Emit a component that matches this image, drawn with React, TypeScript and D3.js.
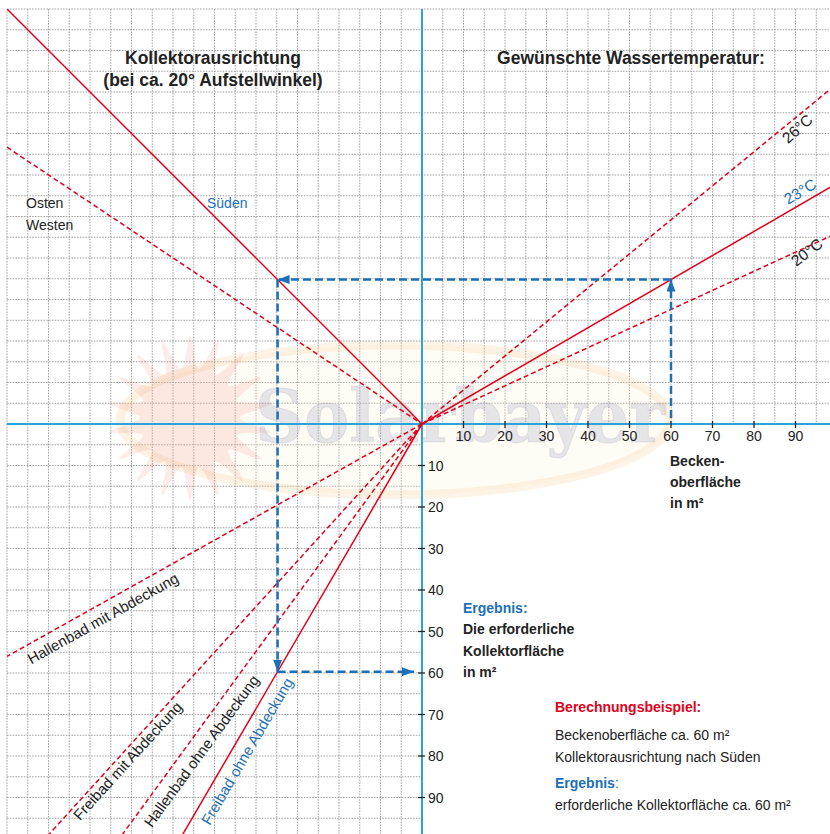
import * as d3 from 'd3'

// axis ticks (m²)
const xTicks = [10, 20, 30, 40, 50, 60, 70, 80, 90]
const yTicks = [10, 20, 30, 40, 50, 60, 70, 80, 90]

// Kollektorausrichtung: y value at x = -100
const orientationNames = ['Süden', 'Osten / Westen']
const orientationValues = [100, 66.7]
const orientationDashed = [false, true]

// Wassertemperatur: y value at x = 100
const temperatureNames = ['26°C', '23°C', '20°C']
const temperatureValues = [82, 58, 46]
const temperatureDashed = [true, false, true]

// Beckenart: -y value at x = -100
const poolNames = ['Hallenbad mit Abdeckung', 'Freibad mit Abdeckung', 'Hallenbad ohne Abdeckung', 'Freibad ohne Abdeckung']
const poolValues = [56, 110, 137, 171.5]
const poolDashed = [true, true, true, false]

// Berechnungsbeispiel
const exampleArea = 60
const exampleTemp = 1      // 23°C
const exampleOrient = 0    // Süden
const examplePool = 3      // Freibad ohne Abdeckung

const W = 830
const H = 834
const RED = '#e3001b'
const BLUE = '#1d6fb6'
const AXIS = '#2aa2dc'
const TEXT = '#222'
const FONT = '"Liberation Sans", Arial, sans-serif'

export default function App() {
  const x = d3.scaleLinear().domain([-100, 100]).range([7, 837])
  const y = d3.scaleLinear().domain([-100, 100]).range([839, 9])
  const x0 = x(0)
  const y0 = y(0)
  const grid = d3.range(-100, 101, 5)

  const line = d3.line<[number, number]>().x(d => x(d[0])).y(d => y(d[1]))

  // example path values
  const a = exampleArea
  const b = a * temperatureValues[exampleTemp] / 100
  const c = -b * 100 / orientationValues[exampleOrient]
  const d = c * poolValues[examplePool] / 100

  // sun decoration
  const sunPts: [number, number][] = d3.range(36).map(i => [i * Math.PI / 18, i % 2 ? 50 : 82])
  const sun = d3.lineRadial().curve(d3.curveCardinalClosed)(sunPts)

  const tempLabel = [
    { at: 89, off: 15, rot: -42, color: TEXT },
    { at: 92.5, off: -6, rot: -31, color: BLUE },
    { at: 92.5, off: 10, rot: -37, color: TEXT },
  ]
  const poolLabel = [
    { at: -78.5, off: 19, color: TEXT },
    { at: -72.5, off: 14, color: TEXT },
    { at: -56, off: 20, color: TEXT },
    { at: -45, off: 19, color: BLUE },
  ]

  return (
    <svg width={W} height={H} style={{ position: 'absolute', left: 0, top: 0, background: '#fff' }} fontFamily={FONT}>
      <defs>
        <clipPath id="plot">
          <rect x={x(-100)} y={y(100)} width={W - x(-100)} height={H - y(100)} />
        </clipPath>
        <marker id="arrow" viewBox="0 0 12 9" refX={12} refY={4.5} markerWidth={12} markerHeight={9}
          orient="auto" markerUnits="userSpaceOnUse">
          <path d="M0,0 L12,4.5 L0,9 Z" fill={BLUE} />
        </marker>
      </defs>

      {/* grid */}
      <g stroke="#999" strokeWidth={0.9} strokeDasharray="1.6,1.2">
        {grid.map(g => (
          <line key={'vu' + g} x1={x(g)} x2={x(g)} y1={y(100)} y2={y0} />
        ))}
        {grid.filter(g => g >= 0).map(g => (
          <line key={'hu' + g} x1={x(-100)} x2={W} y1={y(g)} y2={y(g)} />
        ))}
        {grid.filter(g => g <= 0).map(g => (
          <line key={'vl' + g} x1={x(g)} x2={x(g)} y1={y0} y2={H} />
        ))}
        {grid.filter(g => g < 0).map(g => (
          <line key={'hl' + g} x1={x(-100)} x2={x0} y1={y(g)} y2={y(g)} />
        ))}
      </g>

      {/* watermark */}
      <g pointerEvents="none">
        <ellipse cx={395} cy={420} rx={275} ry={75} fill="#fdebd0" fillOpacity={0.22} stroke="#f6c27c" strokeOpacity={0.18} strokeWidth={9} />
        <path d={sun ?? ''} transform="translate(190,418)" fill="#e8553e" fillOpacity={0.11} />
        <text x={460} y={442} textAnchor="middle" fontFamily='"DejaVu Serif", serif' fontWeight="bold" fontSize={72}
          textLength={410} lengthAdjust="spacingAndGlyphs" fill="#8a90b2" fillOpacity={0.22} stroke="#8a90b2" strokeOpacity={0.18}>
          Solarbayer
        </text>
      </g>

      {/* axes */}
      <line x1={x(-100)} x2={W} y1={y0} y2={y0} stroke={AXIS} strokeWidth={2} />
      <line x1={x0} x2={x0} y1={y(100)} y2={H} stroke={AXIS} strokeWidth={2} />

      {/* ticks */}
      <g stroke={TEXT} strokeWidth={1.3}>
        {xTicks.map(t => <line key={'xt' + t} x1={x(t)} x2={x(t)} y1={y0 - 3} y2={y0 + 4} />)}
        {yTicks.map(t => <line key={'yt' + t} x1={x0 - 4} x2={x0 + 3} y1={y(-t)} y2={y(-t)} />)}
      </g>
      <g fontSize={14} fill={TEXT}>
        {xTicks.map(t => <text key={'xl' + t} x={x(t)} y={y0 + 17} textAnchor="middle">{t}</text>)}
        {yTicks.map(t => <text key={'yl' + t} x={x0 + 6} y={y(-t) + 5}>{t}</text>)}
      </g>

      {/* curves */}
      <g clipPath="url(#plot)" fill="none" stroke={RED} strokeWidth={1.5}>
        {orientationValues.map((v, i) => (
          <path key={'o' + i} d={line([[-100, v], [0, 0]]) ?? ''} strokeDasharray={orientationDashed[i] ? '5,3' : undefined} />
        ))}
        {temperatureValues.map((v, i) => (
          <path key={'t' + i} d={line([[0, 0], [100, v]]) ?? ''} strokeDasharray={temperatureDashed[i] ? '5,3' : undefined} />
        ))}
        {poolValues.map((v, i) => (
          <path key={'p' + i} d={line([[0, 0], [-100, -v]]) ?? ''} strokeDasharray={poolDashed[i] ? '5,3' : undefined} />
        ))}
      </g>

      {/* example arrows */}
      <g fill="none" stroke={BLUE} strokeWidth={2.5} strokeDasharray="8,4">
        <line x1={x(a)} x2={x(a)} y1={y0 - 6} y2={y(b)} markerEnd="url(#arrow)" />
        <line x1={x(a)} x2={x(c)} y1={y(b)} y2={y(b)} markerEnd="url(#arrow)" />
        <line x1={x(c)} x2={x(c)} y1={y(b)} y2={y(d)} markerEnd="url(#arrow)" />
        <line x1={x(c)} x2={x0 - 8} y1={y(d)} y2={y(d)} markerEnd="url(#arrow)" />
      </g>

      {/* temperature labels */}
      {temperatureValues.map((v, i) => {
        const th = Math.atan(v / 100)
        const l = tempLabel[i]
        const px = x(l.at) + Math.sin(th) * l.off
        const py = y(l.at * v / 100) + Math.cos(th) * l.off
        return (
          <text key={'tl' + i} x={0} y={0} fontSize={15.5} fill={l.color} textAnchor="middle"
            transform={`translate(${px},${py}) rotate(${l.rot})`}>{temperatureNames[i]}</text>
        )
      })}

      {/* pool labels */}
      {poolValues.map((v, i) => {
        const th = Math.atan(v / 100)
        const l = poolLabel[i]
        const px = x(l.at) + Math.sin(th) * l.off
        const py = y(l.at * v / 100) + Math.cos(th) * l.off
        return (
          <text key={'pl' + i} x={0} y={0} fontSize={15} fill={l.color} textAnchor="middle"
            transform={`translate(${px},${py}) rotate(${-th * 180 / Math.PI})`}>{poolNames[i]}</text>
        )
      })}

      {/* headings and notes */}
      <g fontSize={17.5} fontWeight="bold" fill={TEXT} textAnchor="middle">
        <text x={213} y={64}>Kollektorausrichtung</text>
        <text x={213} y={86}>(bei ca. 20° Aufstellwinkel)</text>
        <text x={631} y={64}>Gewünschte Wassertemperatur:</text>
      </g>
      <g fontSize={14} fill={TEXT}>
        <text x={26} y={208}>Osten</text>
        <text x={26} y={230}>Westen</text>
        <text x={207} y={208} fill={BLUE}>Süden</text>
      </g>
      <g fontSize={14} fontWeight="bold" fill={TEXT}>
        <text x={670} y={466}>Becken-</text>
        <text x={670} y={487}>oberfläche</text>
        <text x={670} y={508}>in m²</text>
        <text x={463} y={613} fill={BLUE}>Ergebnis:</text>
        <text x={463} y={634}>Die erforderliche</text>
        <text x={463} y={656}>Kollektorfläche</text>
        <text x={463} y={677}>in m²</text>
        <text x={555} y={712} fill={RED}>Berechnungsbeispiel:</text>
        <text x={555} y={788} fill={BLUE}>Ergebnis<tspan fontWeight="normal">:</tspan></text>
      </g>
      <g fontSize={14} fill={TEXT}>
        <text x={555} y={740}>Beckenoberfläche ca. 60 m²</text>
        <text x={555} y={762}>Kollektorausrichtung nach Süden</text>
        <text x={555} y={810}>erforderliche Kollektorfläche ca. 60 m²</text>
      </g>
    </svg>
  )
}
